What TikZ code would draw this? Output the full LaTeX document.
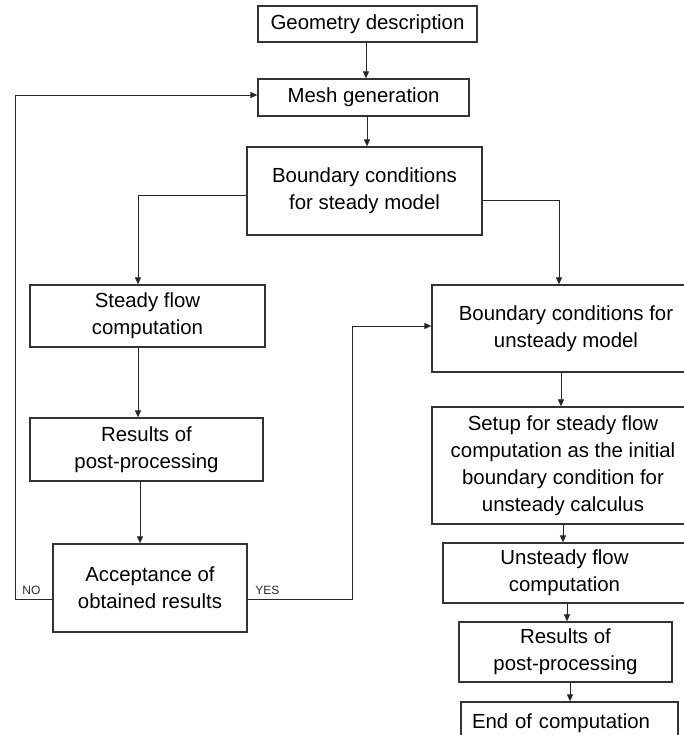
\documentclass[tikz,border=0pt]{standalone}
\usepackage{fontspec}
\setmainfont{Liberation Sans}
\usepackage{tikz}
\usetikzlibrary{arrows.meta}

\begin{document}
\begin{tikzpicture}[
			x=0.5pt,y=-0.5pt,
			box/.style={
				draw=black!80,
				line width=0.65pt,
				align=center,
				inner sep=0pt,
				font=\fontsize{10.2}{13.5}\selectfont
			},
			tag/.style={inner sep=0pt,text=black!85,font=\fontsize{6}{6}\selectfont},
			arrow/.style={-{Triangle[length=3.5pt,width=3pt]},line width=0.5pt,black!85}
			]
			
			\useasboundingbox (0,0) rectangle (684,735);
			\clip (0,0) rectangle (684,735);
			
			\node[box,minimum width=109.5pt,minimum height=18pt] (geo) at (367.5,24) {Geometry description};
			\node[box,minimum width=105.5pt,minimum height=18.5pt] (mesh) at (363.5,97.5) {Mesh generation};
			\node[box,minimum width=117.5pt,minimum height=44pt] (bcs) at (364.5,191) {Boundary conditions\\for steady model};
			\node[box,minimum width=117.5pt,minimum height=31pt] (steady) at (147.5,316) {Steady flow\\computation};
			\node[box,minimum width=116.5pt,minimum height=31.5pt] (resl) at (146.5,449.5) {Results of\\post-processing};
			\node[box,minimum width=97pt,minimum height=44pt] (accept) at (150,588) {Acceptance of\\obtained results};
			\node[box,minimum width=134pt,minimum height=43.5pt] (bcu) at (566,328.5) {Boundary conditions for\\unsteady model};
			\node[box,minimum width=131pt,minimum height=58.5pt] (setup) at (563,465.5) {Setup for steady flow\\computation as the initial\\boundary condition for\\unsteady calculus};
			\node[box,minimum width=121.5pt,minimum height=30pt] (unsteady) at (564.5,573) {Unsteady flow\\computation};
			\node[box,minimum width=106.5pt,minimum height=30pt] (resr) at (565.5,652) {Results of\\post-processing};
			\node[box,minimum width=108.5pt,minimum height=21.5pt,text width=97.5pt,align=left] (endc) at (569.5,723.5) {End of computation};
			
			\node[tag,anchor=south west] (no) at (22,595) {NO};
			\node[tag,anchor=south west] (yes) at (255,595) {YES};
			
			\coordinate (nocorner) at (15,95);
			\coordinate (yescorner) at (352,326);
			
			\draw[arrow] ([xshift=-0.75pt]geo.south) -- ([xshift=1.25pt]mesh.north);
			\draw[arrow] ([xshift=1.75pt]mesh.south) -- ([xshift=1.25pt]bcs.north);
			\draw[arrow] ([yshift=-2pt]bcs.west) -| ([xshift=-4.75pt]steady.north);
			\draw[arrow] ([yshift=-4.5pt]bcs.east) -| ([xshift=-3.5pt]bcu.north);
			\draw[arrow] ([xshift=-4.75pt]steady.south) -- ([xshift=-4.25pt]resl.north);
			\draw[arrow] ([xshift=-3.25pt]resl.south) -- ([xshift=-5pt]accept.north);
			\draw[arrow] ([yshift=-5.5pt]accept.west) -| (nocorner) -- ([yshift=1.25pt]mesh.west);
			\draw[arrow] ([yshift=-5.5pt]accept.east) -| (yescorner) -- ([yshift=1.25pt]bcu.west);
			\draw[arrow] ([xshift=-2.5pt]bcu.south) -- ([xshift=-1pt]setup.north);
			\draw[arrow] (setup.south) -- ([xshift=-0.75pt]unsteady.north);
			\draw[arrow] ([xshift=1.25pt]unsteady.south) -- ([xshift=0.75pt]resr.north);
			\draw[arrow] ([xshift=2.25pt]resr.south) -- ([xshift=0.25pt]endc.north);
			
		\end{tikzpicture}
\end{document}
